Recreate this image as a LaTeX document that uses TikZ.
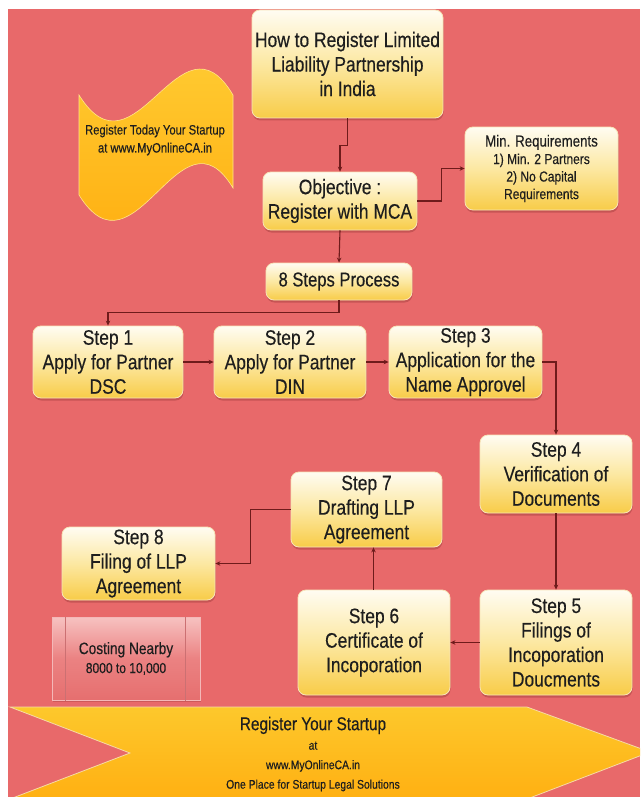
\documentclass[tikz,border=0pt]{standalone}
\usepackage{fontspec}
\setmainfont{Liberation Sans}[FakeStretch=0.83,FakeBold=0.35]
\usetikzlibrary{shadows,arrows.meta}
\definecolor{bg}{HTML}{E8696A}
\definecolor{boxtop}{HTML}{FFFCF2}
\definecolor{boxmid}{HTML}{FCE8A2}
\definecolor{boxbot}{HTML}{F8CC48}
\definecolor{boxedge}{HTML}{F7E4B8}
\definecolor{shadowc}{HTML}{9E3B3B}
\definecolor{txt}{HTML}{1E1E1E}
\definecolor{conn}{HTML}{6E1B1B}
\definecolor{wavetop}{HTML}{FFD23A}
\definecolor{wavebot}{HTML}{FFA90A}
\definecolor{bantop}{HTML}{FDC82C}
\definecolor{banbot}{HTML}{FFB012}
\definecolor{banedge}{HTML}{F6D9A6}
\definecolor{costtop}{HTML}{F7C2C1}
\definecolor{costmid}{HTML}{EB8282}
\definecolor{costbot}{HTML}{E66F6F}
\definecolor{costedge}{HTML}{F4B8B8}
\definecolor{costline}{HTML}{CC7072}
\begin{document}
\begin{tikzpicture}[x=1pt,y=-1pt,
  box/.style={rounded corners=8pt, top color=boxtop, bottom color=boxbot, middle color=boxmid,
    draw=boxedge, line width=0.8pt, align=center, text=txt, inner sep=0pt,
    font=\fontsize{21}{24.5}\selectfont,
    drop shadow={shadow xshift=0.5pt, shadow yshift=-2.5pt, fill=shadowc, opacity=0.45}},
  conn/.style={draw=conn, line width=1.1pt, -{Stealth[length=5pt,width=4.5pt]}},
  costbox/.style={top color=costtop, bottom color=costbot, middle color=costmid,
    draw=costedge, line width=1pt, align=center, text=txt, inner sep=0pt,
    drop shadow={shadow xshift=0.5pt, shadow yshift=-2pt, fill=shadowc, opacity=0.35}},
  plain/.style={align=center, text=txt, inner sep=0pt}
]
\useasboundingbox (0,0) rectangle (640,797);
\clip (0,0) rectangle (640,797);
\fill[white] (0,0) rectangle (640,797);
\fill[bg] (8,9) rectangle (640,797);

% wave flag
\shade[top color=wavetop, bottom color=wavebot, draw=wavetop!60!white, line width=0.6pt]
  (79,95) .. controls (135,185) and (180,5) .. (233,95)
  -- (233,188) .. controls (180,100) and (135,285) .. (79,195) -- cycle;
\node[plain, font=\fontsize{13.5}{18}\selectfont] (wavetext) at (155,140)
  {Register Today Your Startup\\at www.MyOnlineCA.in};

% bottom banner
\shade[top color=bantop, bottom color=banbot, draw=banedge, line width=0.8pt]
  (10,707) -- (527,707) -- (650,752) -- (527,799) -- (10,799) -- (130,753) -- cycle;
\node[plain, font=\fontsize{12.5}{19.5}\selectfont] (banner) at (313,754)
  {{\fontsize{18.5}{19.5}\selectfont Register Your Startup}\\at\\www.MyOnlineCA.in\\One Place for Startup Legal Solutions};

% boxes
\node[box, minimum width=191pt, minimum height=108pt] (title) at (347.5,64)
  {How to Register Limited\\Liability Partnership\\in India};
\node[box, minimum width=154pt, minimum height=58pt] (obj) at (340,201)
  {Objective :\\Register with MCA};
\node[box, minimum width=153pt, minimum height=83pt, font=\fontsize{14.5}{17.5}\selectfont] (req) at (541.5,168.5)
  {{\fontsize{16}{17.5}\selectfont Min. Requirements}\\1) Min. 2 Partners\\2) No Capital\\Requirements};
\node[box, minimum width=146pt, minimum height=37pt, font=\fontsize{20}{24}\selectfont] (steps) at (339,281.5)
  {8 Steps Process};
\node[box, minimum width=150pt, minimum height=72pt] (s1) at (108,362)
  {Step 1\\Apply for Partner\\DSC};
\node[box, minimum width=152pt, minimum height=72pt] (s2) at (290,362)
  {Step 2\\Apply for Partner\\DIN};
\node[box, minimum width=153pt, minimum height=72pt] (s3) at (465.5,362)
  {Step 3\\Application for the\\Name Approvel};
\node[box, minimum width=152pt, minimum height=78pt] (s4) at (556,474)
  {Step 4\\Verification of\\Documents};
\node[box, minimum width=152pt, minimum height=105pt] (s5) at (556,642.5)
  {Step 5\\Filings of\\Incoporation\\Doucments};
\node[box, minimum width=152pt, minimum height=105pt] (s6) at (374,642.5)
  {Step 6\\Certificate of\\Incoporation};
\node[box, minimum width=151pt, minimum height=75pt] (s7) at (366.5,509.5)
  {Step 7\\Drafting LLP\\Agreement};
\node[box, minimum width=153pt, minimum height=73pt] (s8) at (138.5,563.5)
  {Step 8\\Filing of LLP\\Agreement};

% costing box
\node[costbox, minimum width=148pt, minimum height=83pt, font=\fontsize{14.5}{19}\selectfont] (cost) at (126,658.5)
  {{\fontsize{16.5}{19}\selectfont Costing Nearby}\\8000 to 10,000};
\draw[costline, line width=0.8pt] ([xshift=14pt]cost.north west) -- ([xshift=14pt]cost.south west);
\draw[costline, line width=0.8pt] ([xshift=-15pt]cost.north east) -- ([xshift=-15pt]cost.south east);

% connectors
\draw[conn] (title.south) -- ++(0,27) -| (obj.north);
\draw[conn] (obj.east) -- ++(24,0) |- (req.west);
\draw[conn] (obj.south) -- (steps.north);
\draw[conn] (steps.south) -- ++(0,12) -| (s1.north);
\draw[conn] (s1.east) -- (s2.west);
\draw[conn] (s2.east) -- (s3.west);
\draw[conn] (s3.east) -| (s4.north);
\draw[conn] (s4.south) -- (s5.north);
\draw[conn] (s5.west) -- (s6.east);
\draw[conn] ([xshift=-0.5pt]s6.north) -- ([xshift=-0.5pt]s6.north |- s7.south);
\draw[conn] (s7.west) -- ++(-40,0) |- (s8.east);
\end{tikzpicture}
\end{document}
